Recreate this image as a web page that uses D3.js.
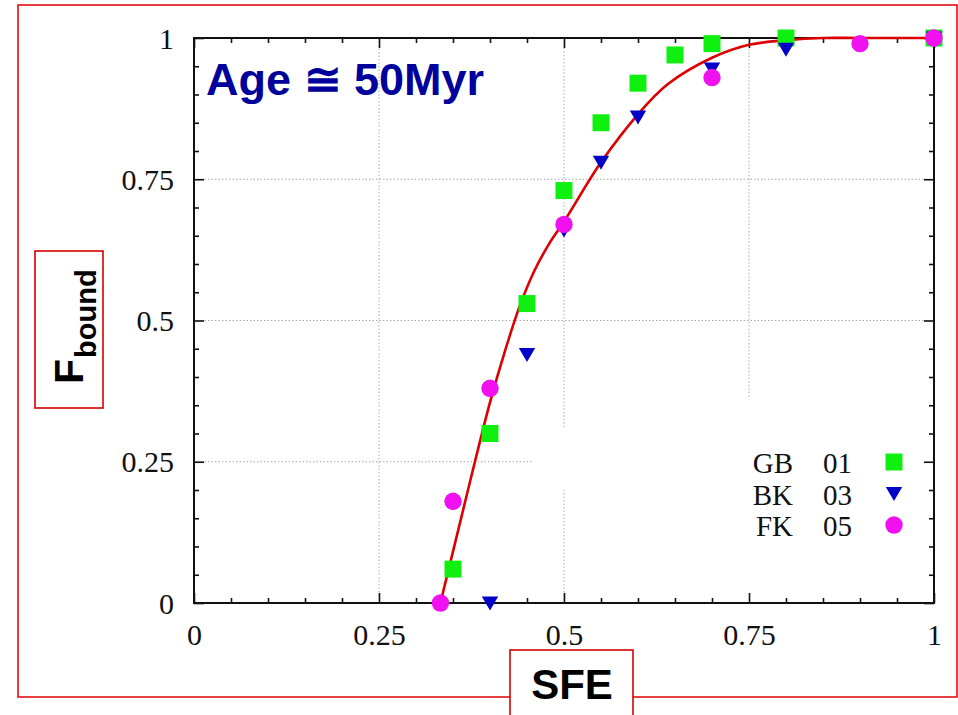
<!DOCTYPE html>
<html><head><meta charset="utf-8">
<script src="https://cdn.jsdelivr.net/npm/d3@7"></script>
<style>
html,body{margin:0;padding:0;background:#fff;}
svg{display:block;}
</style></head>
<body>
<svg id="c" width="958" height="715"></svg>
<script>
// ---- data ----
const majorTicks = [0, 0.25, 0.5, 0.75, 1];
const tickLabels = ["0", "0.25", "0.5", "0.75", "1"];
const minorTicks = [0.05,0.1,0.15,0.2,0.3,0.35,0.4,0.45,0.55,0.6,0.65,0.7,0.8,0.85,0.9,0.95];

const gbX = [0.35, 0.40, 0.45, 0.50, 0.55, 0.60, 0.65, 0.70, 0.80, 1.00];
const gbY = [0.06, 0.30, 0.53, 0.73, 0.85, 0.92, 0.97, 0.99, 1.00, 1.00];

const bkX = [0.40, 0.45, 0.50, 0.55, 0.60, 0.70, 0.80, 1.00];
const bkY = [0.00, 0.44, 0.66, 0.78, 0.86, 0.945, 0.98, 1.00];

const fkX = [0.333, 0.35, 0.40, 0.50, 0.70, 0.90, 1.00];
const fkY = [0.00, 0.18, 0.38, 0.67, 0.93, 0.99, 1.00];

const fitX = [0.333, 0.36, 0.38, 0.40, 0.42, 0.44, 0.46, 0.48, 0.50, 0.55, 0.60, 0.64, 0.70, 0.75, 0.80, 0.85, 0.90, 1.00];
const fitY = [0.00, 0.145, 0.252, 0.355, 0.445, 0.525, 0.588, 0.636, 0.675, 0.78, 0.865, 0.918, 0.965, 0.988, 0.996, 1.0, 1.0, 1.0];

const legendNames = ["GB", "BK", "FK"];
const legendNums = ["01", "03", "05"];
const titleText = "Age \u2245 50Myr";
const xLabel = "SFE";
const yLabelMain = "F";
const yLabelSub = "bound";

// ---- layout ----
const L = 194, R = 934, T = 38, B = 603;
const svg = d3.select("#c");
const x = d3.scaleLinear().domain([0, 1]).range([L, R]);
const y = d3.scaleLinear().domain([0, 1]).range([B, T]);

const GREEN = "#10f010", BLUE = "#0000c8", MAG = "#f010f0", RED = "#dd0000";

// outer red frame
svg.append("rect").attr("x", 18).attr("y", 5).attr("width", 939).attr("height", 692)
  .attr("fill", "none").attr("stroke", "#e00000").attr("stroke-width", 1.5);

// grid (dotted)
const grid = svg.append("g").attr("stroke", "#a8a8a8").attr("stroke-width", 1)
  .attr("stroke-dasharray", "1.5,2");
const hSeg = [[0.25, 0, 0.457], [0.5, 0, 1], [0.75, 0, 1]];
hSeg.forEach(([v, a, b]) => grid.append("line").attr("x1", x(a)).attr("x2", x(b)).attr("y1", y(v)).attr("y2", y(v)));
const vSeg = [[0.25, 0, 1], [0.5, 0.311, 1], [0.5, 0, 0.2], [0.75, 0.365, 1]];
vSeg.forEach(([v, a, b]) => grid.append("line").attr("x1", x(v)).attr("x2", x(v)).attr("y1", y(a)).attr("y2", y(b)));

// axes
const fmt = d => tickLabels[majorTicks.indexOf(d)];
function axisStyle(g) {
  g.select(".domain").remove();
  g.selectAll(".tick line").attr("stroke", "#111").attr("stroke-width", 1.6);
}
const gx = svg.append("g").attr("transform", `translate(0,${B})`)
  .call(d3.axisBottom(x).tickValues(majorTicks).tickFormat(fmt).tickSize(-10).tickPadding(0));
gx.call(axisStyle);
gx.selectAll("text").attr("y", 42).attr("dy", null).attr("font-family", "'Liberation Serif','Times New Roman',serif")
  .attr("font-size", 30).attr("fill", "#111");
svg.append("g").attr("transform", `translate(0,${B})`)
  .call(d3.axisBottom(x).tickValues(minorTicks).tickFormat("").tickSize(-5)).call(axisStyle);
svg.append("g").attr("transform", `translate(0,${T})`)
  .call(d3.axisTop(x).tickValues(majorTicks).tickFormat("").tickSize(-10)).call(axisStyle);
svg.append("g").attr("transform", `translate(0,${T})`)
  .call(d3.axisTop(x).tickValues(minorTicks).tickFormat("").tickSize(-5)).call(axisStyle);

const gy = svg.append("g").attr("transform", `translate(${L},0)`)
  .call(d3.axisLeft(y).tickValues(majorTicks).tickFormat(fmt).tickSize(-10).tickPadding(20));
gy.call(axisStyle);
gy.selectAll("text").attr("dy", "0.34em").attr("font-family", "'Liberation Serif','Times New Roman',serif")
  .attr("font-size", 30).attr("fill", "#111");
svg.append("g").attr("transform", `translate(${L},0)`)
  .call(d3.axisLeft(y).tickValues(minorTicks).tickFormat("").tickSize(-5)).call(axisStyle);
svg.append("g").attr("transform", `translate(${R},0)`)
  .call(d3.axisRight(y).tickValues(majorTicks).tickFormat("").tickSize(-10)).call(axisStyle);
svg.append("g").attr("transform", `translate(${R},0)`)
  .call(d3.axisRight(y).tickValues(minorTicks).tickFormat("").tickSize(-5)).call(axisStyle);

// plot border
svg.append("rect").attr("x", L).attr("y", T).attr("width", R - L).attr("height", B - T)
  .attr("fill", "none").attr("stroke", "#111").attr("stroke-width", 2);

// fit curve
const fit = fitX.map((v, i) => [v, fitY[i]]);
svg.append("path").datum(fit)
  .attr("d", d3.line().x(d => x(d[0])).y(d => y(d[1])).curve(d3.curveCatmullRom.alpha(0.5)))
  .attr("fill", "none").attr("stroke", RED).attr("stroke-width", 2.6);

// markers
const sq = d3.symbol().type(d3.symbolSquare).size(17 * 17);
const circ = d3.symbol().type(d3.symbolCircle).size(Math.PI * 8.7 * 8.7);
const triDown = "M-8.2,-6.5L8.2,-6.5L0,7.5Z";

svg.append("g").selectAll("path").data(gbX.map((v, i) => [v, gbY[i]])).join("path")
  .attr("d", sq).attr("transform", d => `translate(${x(d[0])},${y(d[1])})`).attr("fill", GREEN);
svg.append("g").selectAll("path").data(bkX.map((v, i) => [v, bkY[i]])).join("path")
  .attr("d", triDown).attr("transform", d => `translate(${x(d[0])},${y(d[1])})`).attr("fill", BLUE);
svg.append("g").selectAll("path").data(fkX.map((v, i) => [v, fkY[i]])).join("path")
  .attr("d", circ).attr("transform", d => `translate(${x(d[0])},${y(d[1])})`).attr("fill", MAG);

// legend
const legShapes = [sq(), triDown, circ()];
const legColors = [GREEN, BLUE, MAG];
const lg = svg.append("g");
legendNames.forEach((n, i) => {
  const cy = 462 + i * 31.5;
  lg.append("text").attr("x", 793).attr("y", cy + 11).attr("text-anchor", "end")
    .attr("font-family", "'Liberation Serif','Times New Roman',serif").attr("font-size", 29).attr("fill", "#111").text(n);
  lg.append("text").attr("x", 852).attr("y", cy + 11).attr("text-anchor", "end")
    .attr("font-family", "'Liberation Serif','Times New Roman',serif").attr("font-size", 29).attr("fill", "#111").text(legendNums[i]);
  lg.append("path").attr("d", legShapes[i])
    .attr("transform", `translate(894,${cy})`).attr("fill", legColors[i]);
});

// title
svg.append("text").attr("x", 206).attr("y", 95)
  .attr("font-family", "'Liberation Sans',Arial,sans-serif").attr("font-weight", "bold")
  .attr("font-size", 45).attr("fill", "#00009c").text(titleText);

// y label box
svg.append("rect").attr("x", 35).attr("y", 251).attr("width", 68).attr("height", 157)
  .attr("fill", "#fff").attr("stroke", "#d40000").attr("stroke-width", 1.6);
const yl = svg.append("text").attr("transform", "translate(83,384) rotate(-90)")
  .attr("font-family", "'Liberation Sans',Arial,sans-serif").attr("font-weight", "bold").attr("fill", "#000");
yl.append("tspan").attr("font-size", 41).text(yLabelMain);
yl.append("tspan").attr("font-size", 29).attr("dy", 13).attr("dx", 1).text(yLabelSub);

// x label box
svg.append("rect").attr("x", 510).attr("y", 650).attr("width", 123).attr("height", 80)
  .attr("fill", "#fff").attr("stroke", "#d40000").attr("stroke-width", 1.6);
svg.append("text").attr("x", 572).attr("y", 699).attr("text-anchor", "middle")
  .attr("font-family", "'Liberation Sans',Arial,sans-serif").attr("font-weight", "bold")
  .attr("font-size", 42).attr("fill", "#000").text(xLabel);
</script>
</body></html>
